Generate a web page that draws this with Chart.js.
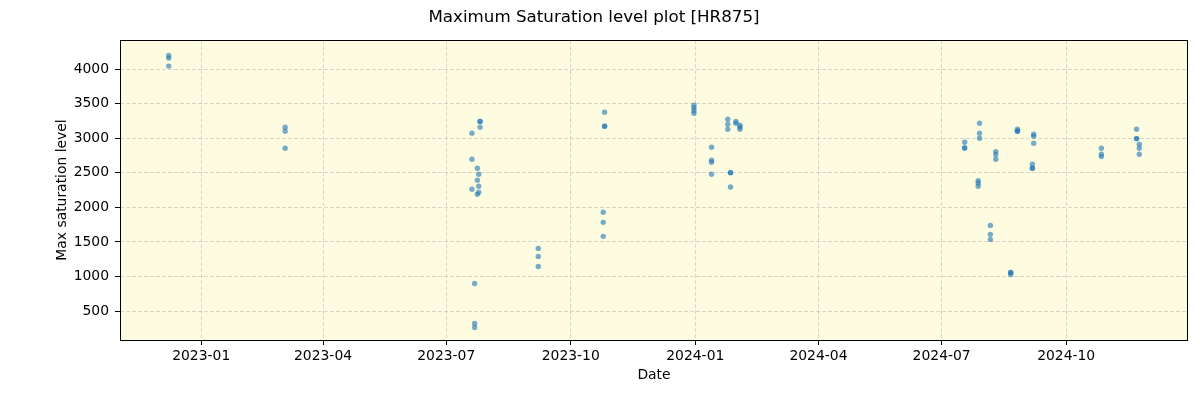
<!DOCTYPE html>
<html>
<head>
<meta charset="utf-8">
<script src="https://cdn.jsdelivr.net/npm/chart.js@4.4.0/dist/chart.umd.min.js"></script>
<style>
  html, body { margin: 0; padding: 0; background: #fff; }
  #wrap { width: 1200px; height: 400px; }
</style>
</head>
<body>
<div id="wrap"><canvas id="satChart" width="1200" height="400"></canvas></div>
<script>
const obsDates = [
    '2022-12-08', '2022-12-08', '2022-12-08',
    '2023-03-04', '2023-03-04', '2023-03-04',
    '2023-07-20', '2023-07-20', '2023-07-20',
    '2023-07-22', '2023-07-22', '2023-07-22',
    '2023-07-24', '2023-07-24', '2023-07-24',
    '2023-07-25', '2023-07-25', '2023-07-25',
    '2023-07-26', '2023-07-26', '2023-07-26',
    '2023-09-07', '2023-09-07', '2023-09-07',
    '2023-10-25', '2023-10-25', '2023-10-25',
    '2023-10-26', '2023-10-26', '2023-10-26',
    '2023-12-31', '2023-12-31', '2023-12-31', '2023-12-31',
    '2024-01-13', '2024-01-13', '2024-01-13', '2024-01-13',
    '2024-01-25', '2024-01-25', '2024-01-25',
    '2024-01-27', '2024-01-27', '2024-01-27',
    '2024-01-31', '2024-01-31',
    '2024-02-03', '2024-02-03', '2024-02-03',
    '2024-07-18', '2024-07-18', '2024-07-18',
    '2024-07-28', '2024-07-28', '2024-07-28',
    '2024-07-29', '2024-07-29', '2024-07-29',
    '2024-08-06', '2024-08-06', '2024-08-06',
    '2024-08-10', '2024-08-10', '2024-08-10',
    '2024-08-21', '2024-08-21', '2024-08-21',
    '2024-08-26', '2024-08-26', '2024-08-26',
    '2024-09-06', '2024-09-06', '2024-09-06',
    '2024-09-07', '2024-09-07', '2024-09-07',
    '2024-10-27', '2024-10-27', '2024-10-27',
    '2024-11-22', '2024-11-22', '2024-11-22',
    '2024-11-24', '2024-11-24', '2024-11-24'
];
const satLevels = [
    4197, 4159, 4043,
    3160, 3102, 2855,
    3073, 2696, 2261,
    899, 320, 262,
    2566, 2392, 2189,
    2479, 2305, 2218,
    3241, 3241, 3160,
    1406, 1290, 1145,
    1928, 1783, 1580,
    3377, 3174, 3174,
    3478, 3439, 3400, 3362,
    2870, 2681, 2652, 2479,
    3275, 3203, 3130,
    2502, 2502, 2294,
    3241, 3217,
    3188, 3160, 3130,
    2942, 2859, 2859,
    2386, 2353, 2305,
    3217, 3073, 3000,
    1739, 1609, 1536,
    2806, 2763, 2696,
    1058, 1058, 1029,
    3130, 3101, 3101,
    2623, 2566, 2566,
    3058, 3029, 2928,
    2855, 2768, 2734,
    3130, 2994, 2994,
    2913, 2855, 2768
];
const xTickDates = ['2023-01-01', '2023-04-01', '2023-07-01', '2023-10-01',
                    '2024-01-01', '2024-04-01', '2024-07-01', '2024-10-01'];
const yTickValues = [500, 1000, 1500, 2000, 2500, 3000, 3500, 4000];
const xRange = ['2022-11-02', '2024-12-30'];
const yRange = [81, 4420];

const toMs = s => Date.parse(s + 'T00:00:00Z');
const fmtMonth = v => {
    const d = new Date(v);
    return d.getUTCFullYear() + '-' + String(d.getUTCMonth() + 1).padStart(2, '0');
};

const FONT = 'DejaVu Sans';

// yellow plot background + black frame like matplotlib spines
const plotFrame = {
    id: 'plotFrame',
    beforeDraw(chart) {
        const a = chart.chartArea;
        const ctx = chart.ctx;
        ctx.save();
        ctx.fillStyle = '#fdfce1';
        ctx.fillRect(a.left, a.top, a.right - a.left, a.bottom - a.top);
        ctx.restore();
    },
    afterDraw(chart) {
        const a = chart.chartArea;
        const ctx = chart.ctx;
        ctx.save();
        ctx.strokeStyle = '#000';
        ctx.lineWidth = 1;
        ctx.strokeRect(Math.round(a.left) + 0.5, Math.round(a.top) + 0.5,
                       Math.round(a.right - a.left) - 1, Math.round(a.bottom - a.top));
        ctx.restore();
    }
};

const points = obsDates.map((d, i) => ({ x: toMs(d), y: satLevels[i] }));

new Chart(document.getElementById('satChart'), {
    type: 'scatter',
    data: {
        datasets: [{
            data: points,
            backgroundColor: 'rgba(31,119,180,0.6)',
            borderWidth: 0,
            pointRadius: 2.7,
            pointHoverRadius: 2.7
        }]
    },
    options: {
        responsive: false,
        animation: false,
        devicePixelRatio: 1,
        layout: { padding: { left: 0, right: 12, top: 0, bottom: 0 } },
        plugins: {
            legend: { display: false },
            tooltip: { enabled: false },
            title: {
                display: true,
                text: 'Maximum Saturation level plot [HR875]',
                color: '#000',
                font: { family: FONT, size: 16.7, weight: 'normal' },
                padding: { top: 8, bottom: 12 }
            }
        },
        scales: {
            x: {
                type: 'linear',
                min: toMs(xRange[0]),
                max: toMs(xRange[1]),
                afterBuildTicks: s => { s.ticks = xTickDates.map(d => ({ value: toMs(d) })); },
                afterFit: s => { s.height = 60; },
                ticks: {
                    callback: v => fmtMonth(v),
                    color: '#000',
                    font: { family: FONT, size: 13.9 },
                    padding: 3,
                    maxRotation: 0,
                    autoSkip: false
                },
                grid: {
                    color: 'rgba(176,176,176,0.6)',
                    lineWidth: 0.8,
                    tickColor: '#000',
                    tickLength: 5,
                    tickWidth: 1
                },
                border: { display: false, dash: [4, 2] },
                title: {
                    display: true,
                    text: 'Date',
                    color: '#000',
                    font: { family: FONT, size: 13.9 },
                    padding: { top: 0, bottom: 16.5 }
                }
            },
            y: {
                min: yRange[0],
                max: yRange[1],
                afterBuildTicks: s => { s.ticks = yTickValues.map(v => ({ value: v })); },
                afterFit: s => { s.width = 120; },
                ticks: {
                    callback: v => String(v),
                    color: '#000',
                    font: { family: FONT, size: 13.9 },
                    padding: 6
                },
                grid: {
                    color: 'rgba(176,176,176,0.6)',
                    lineWidth: 0.8,
                    tickColor: '#000',
                    tickLength: 5,
                    tickWidth: 1
                },
                border: { display: false, dash: [4, 2] },
                title: {
                    display: true,
                    text: 'Max saturation level',
                    color: '#000',
                    font: { family: FONT, size: 13.9 },
                    padding: { top: 54, bottom: 0 }
                }
            }
        }
    },
    plugins: [plotFrame]
});
</script>
</body>
</html>
